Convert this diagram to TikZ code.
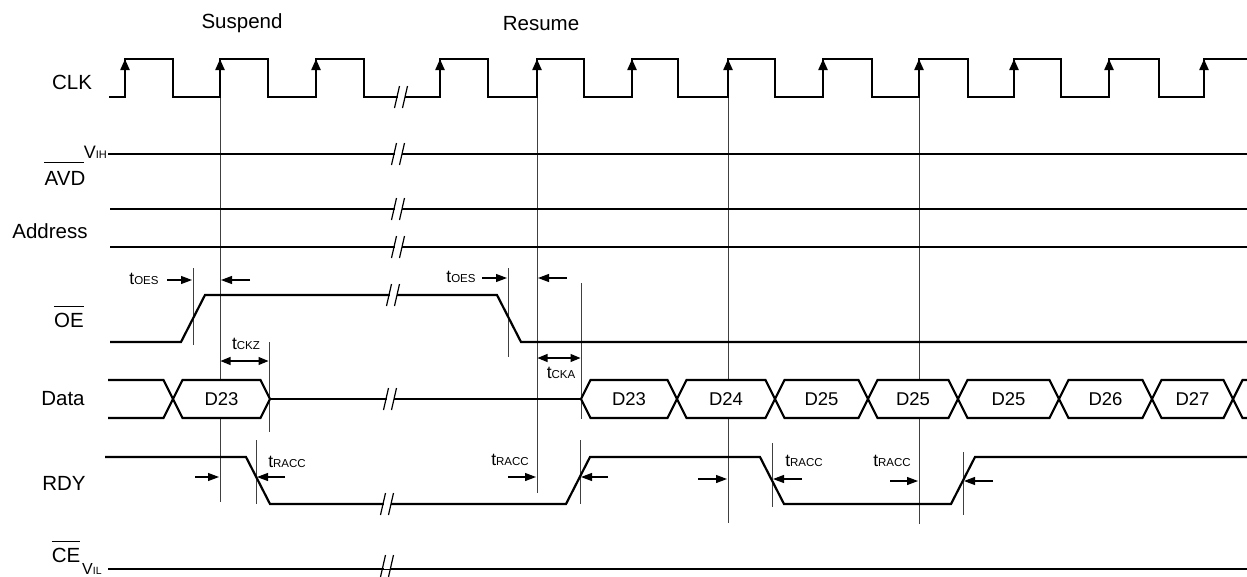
\documentclass[tikz,border=0pt]{standalone}
\usepackage{fontspec}
\setmainfont{Liberation Sans}
\usetikzlibrary{arrows.meta}
\newcommand{\tsub}[1]{{\fontsize{17.5}{17.5}\selectfont t}{\fontsize{11.5}{11.5}\selectfont #1}}
\newcommand{\brk}[2]{%
  \fill[white] (#1-3.5,#2-2.5) rectangle (#1+3.5,#2+2.5);
  \draw[line width=1.2pt] (#1-6.5,#2+11) -- (#1-1.5,#2-11);
  \draw[line width=1.2pt] (#1+1.5,#2+11) -- (#1+6.5,#2-11);}

\begin{document}
\begin{tikzpicture}[x=1pt,y=-1pt,
  sig/.style={line width=2.2pt},
  guide/.style={line width=0.8pt, black!75},
  tick/.style={line width=1.1pt, -{Triangle[length=11pt,width=8pt]}},
  dtick/.style={line width=1.1pt, {Triangle[length=10pt,width=8pt]}-{Triangle[length=10pt,width=8pt]}},
  clkup/.style={line width=2.2pt, -{Triangle[length=11pt,width=9pt]}},
  lbl/.style={font=\fontsize{20.5}{24}\selectfont, inner sep=0pt},
  dlbl/.style={font=\fontsize{18.5}{22}\selectfont, inner sep=0pt},
  tlbl/.style={anchor=base, inner sep=0pt}]
  \useasboundingbox (0,0) rectangle (1247,576);

  % signal names
  \node[lbl] (susp) at (242,23.5) {Suspend};
  \node[lbl] (resm) at (541,23.5) {Resume};
  \node[lbl] (clk) at (72,82) {CLK};
  \node[lbl] (avd) at (65,178) {AVD};
  \node[anchor=base east, inner sep=0pt] (vih) at (107,158)
    {{\fontsize{18}{18}\selectfont V}{\fontsize{11}{11}\selectfont IH}};
  \node[lbl] (addr) at (50,231) {Address};
  \node[lbl] (oe) at (69,320) {OE};
  \node[lbl] (data) at (63,399) {Data};
  \node[lbl] (rdy) at (64,483) {RDY};
  \node[lbl] (ce) at (66,555) {CE};
  \node[anchor=base west, inner sep=0pt] (vil) at (82,574)
    {{\fontsize{16}{16}\selectfont V}{\fontsize{10.5}{10.5}\selectfont IL}};
  \draw[line width=0.9pt] ([yshift=8.5pt]avd.north west) -- ([yshift=8.5pt]avd.north east -| vih.west);
  \draw[line width=0.9pt] ([yshift=6pt]oe.north west) -- ([yshift=6pt]oe.north east);
  \draw[line width=0.9pt] ([yshift=6pt]ce.north west) -- ([yshift=6pt]ce.north east);

  % reference lines
  \draw[guide] (220,59) -- (220,502);
  \draw[guide] (537,59) -- (537,493);
  \draw[guide] (728,59) -- (728,523);
  \draw[guide] (919,59) -- (919,524);
  \draw[guide] (193,268) -- (193,345);
  \draw[guide] (269,342) -- (269,432);
  \draw[guide] (508,268) -- (508,357);
  \draw[guide] (581,283) -- (581,419);
  \draw[guide] (256,440) -- (256,504);
  \draw[guide] (580,440) -- (580,504);
  \draw[guide] (772,443) -- (772,507);
  \draw[guide] (963,452) -- (963,515);

  % CLK
  \draw[sig] (109,97) -| (125,59) -| (173,97) -| (220,59) -| (268,97) -| (316,59)
    -| (364,97) -| (440,59) -| (488,97) -| (537,59) -| (584,97) -| (632,59)
    -| (678,97) -| (728,59) -| (775,97) -| (823,59) -| (872,97) -| (919,59)
    -| (968,97) -| (1014,59) -| (1061,97) -| (1109,59) -| (1159,97) -| (1204,59)
    -- (1247,59);
  \foreach \x in {125,220,316,440,537,632,728,823,919,1014,1109,1204}
    \draw[clkup] (\x,80) -- (\x,59);
  \brk{401}{97}

  % AVD, Address
  \draw[sig] (108,154) -- (1247,154);
  \brk{398}{154}
  \draw[sig] (110,209) -- (1247,209);
  \brk{398}{209}
  \draw[sig] (110,247) -- (1247,247);
  \brk{398}{247}

  % OE
  \draw[sig] (110,342) -- (181,342) -- (205,295) -- (497,295) -- (521,342) -- (1247,342);
  \brk{393}{295}
  \node[tlbl] (toes1) at (144,284) {\tsub{OES}};
  \draw[tick] (167,280) -- (192,280);
  \draw[tick] (250,280) -- (221,280);
  \node[tlbl] (toes2) at (461,282) {\tsub{OES}};
  \draw[tick] (482,278) -- (507,278);
  \draw[tick] (567,278) -- (538,278);
  \node[tlbl] (tckz) at (246,349) {\tsub{CKZ}};
  \draw[dtick] (220.5,361) -- (268.5,361);
  \node[tlbl] (tcka) at (561,378) {\tsub{CKA}};
  \draw[dtick] (537.5,358) -- (580.5,358);

  % Data
  \draw[sig] (108,380) -- (163.5,380) -- (173,399) (108,418) -- (163.5,418) -- (173,399);
  \draw[sig] (270,399) -- (581,399);
  \brk{390}{399}
  \foreach \a/\b/\t/\n in {173/270/D23/da, 581/677/D23/db, 677/775/D24/dc,
      775/868/D25/dd, 868/958/D25/de, 958/1059/D25/df, 1059/1152/D26/dg, 1152/1233/D27/dh} {
    \draw[sig, fill=white] (\a,399) -- (\a+9.5,380) -- (\b-9.5,380) -- (\b,399)
      -- (\b-9.5,418) -- (\a+9.5,418) -- cycle;
    \node[dlbl] (\n) at ({(\a+\b)/2},399) {\t};
  }
  \draw[sig] (1247,380) -- (1242.5,380) -- (1233,399) -- (1242.5,418) -- (1247,418);

  % RDY
  \draw[sig] (105,457) -- (246,457) -- (270,504) -- (566,504) -- (590,457) -- (760,457)
    -- (784,504) -- (951,504) -- (975,457) -- (1247,457);
  \brk{387}{504}
  \node[tlbl] (tracc1) at (287,467) {\tsub{RACC}};
  \draw[tick] (195,477) -- (219,477);
  \draw[tick] (285,477) -- (257,477);
  \node[tlbl] (tracc2) at (510,465) {\tsub{RACC}};
  \draw[tick] (508,477) -- (536,477);
  \draw[tick] (608,477) -- (581,477);
  \node[tlbl] (tracc3) at (804,466) {\tsub{RACC}};
  \draw[tick] (698,479) -- (727,479);
  \draw[tick] (802,479) -- (773,479);
  \node[tlbl] (tracc4) at (892,466) {\tsub{RACC}};
  \draw[tick] (890,481) -- (918,481);
  \draw[tick] (993,481) -- (964,481);

  % CE
  \draw[sig] (108,569) -- (1247,569);
  \brk{387}{566}
\end{tikzpicture}
\end{document}
